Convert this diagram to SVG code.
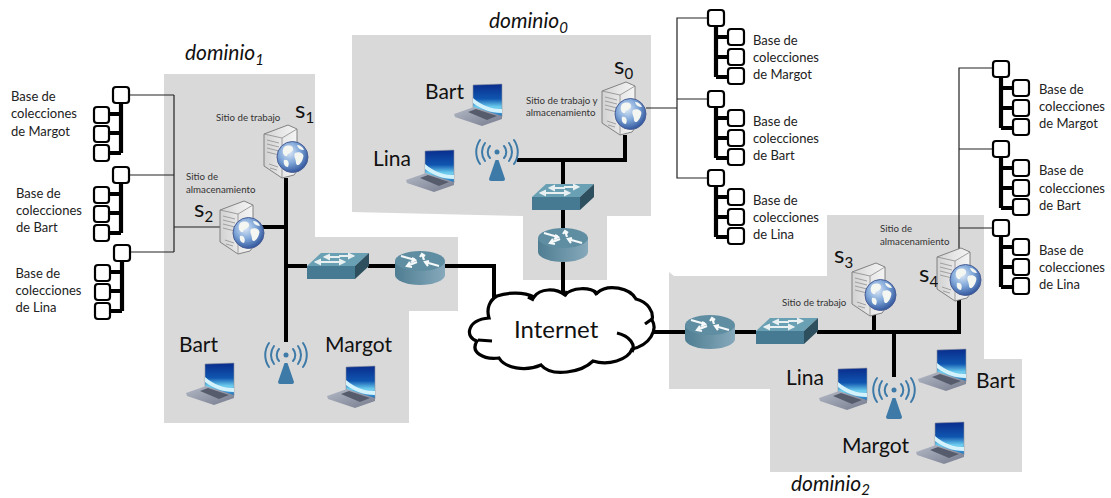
<svg xmlns="http://www.w3.org/2000/svg" width="1111" height="498" viewBox="0 0 1111 498">
<style>
text{font-family:Lato,"Liberation Sans",sans-serif;fill:#111}
.db{font-size:13px;fill:#222}
.big{font-size:21px}
.sm{font-size:9.7px;fill:#333}
.dom{font-size:21px;font-style:italic}
.sv{font-size:24px}
.sub{font-size:15px}
.inet{font-size:24px}
.region{fill:#d9d9d9}
.thin{fill:none;stroke:#222;stroke-width:1.2}
.thick{fill:none;stroke:#000;stroke-width:4}
.box{fill:#fff;stroke:#000;stroke-width:2.2}
.trunk{fill:none;stroke:#000;stroke-width:4.2}
.arc{fill:none;stroke:#3d7aa8;stroke-width:2;stroke-linecap:round}
</style>
<defs>
<linearGradient id="scr" x1="0" y1="0" x2="0" y2="1"><stop offset="0" stop-color="#0a2c8c"/><stop offset=".45" stop-color="#0f56b0"/><stop offset=".7" stop-color="#6fd0f0"/><stop offset="1" stop-color="#1266b8"/></linearGradient>
<linearGradient id="kb" x1="0" y1="0" x2="1" y2="1"><stop offset="0" stop-color="#b4b9c6"/><stop offset="1" stop-color="#767c8e"/></linearGradient>
<linearGradient id="rt" x1="0" y1="0" x2="1" y2="0"><stop offset="0" stop-color="#4f7d92"/><stop offset="1" stop-color="#86a9bb"/></linearGradient>
<radialGradient id="gl" cx=".4" cy=".35" r=".7"><stop offset="0" stop-color="#dbe7f6"/><stop offset=".5" stop-color="#7ea6d8"/><stop offset="1" stop-color="#2a4d96"/></radialGradient>
<linearGradient id="tw" x1="0" y1="0" x2="1" y2="0"><stop offset="0" stop-color="#d2d2d2"/><stop offset=".5" stop-color="#e6e6e6"/><stop offset="1" stop-color="#f4f4f4"/></linearGradient>
<symbol id="laptop" overflow="visible">
<polygon points="19,1 48,0 48,33 19,24" fill="url(#scr)" stroke="#8d93a0" stroke-width=".6"/>
<path d="M19,14 C28,22 38,25 48,25 L48,29 C36,29 27,25 19,19Z" fill="#d4f2fb"/>
<polygon points="0,30 20,23 48,32 48,35 28,42 1,33" fill="url(#kb)"/>
<polygon points="14,28 22,25 43,32 33,36" fill="#565c6c"/>
</symbol>
<symbol id="server" overflow="visible">
<polygon points="0,9 24,0 33,4 33,46 30,50 18,53 0,41" fill="url(#tw)" stroke="#777" stroke-width=".9"/>
<path d="M18,13 L18,53 M0,9 L18,13 L33,4" fill="none" stroke="#8a8a8a" stroke-width=".8"/>
<path d="M3,15 L15,18 M3,19 L15,22 M3,23 L15,26 M3,27 L15,30 M5,39 L14,42 M6,43 L13,45" stroke="#999" stroke-width=".9" fill="none"/>
<circle cx="28.500" cy="32" r="15.500" fill="url(#gl)" stroke="#4a5f96" stroke-width="1"/>
<path d="M20,22 C25,19 30,21 29,25 C27,29 24,27 23,31 C20,32 17,27 20,22Z M31,28 C36,26 41,29 39,33 C38,38 33,43 32,38 C32,34 29,31 31,28Z M20,35 C24,34 26,38 24,42 C21,42 19,39 20,35Z M33,20 C36,20 39,22 40,25 C37,25 34,24 33,20Z" fill="#f4f6f2"/>
</symbol>
<symbol id="switch" overflow="visible">
<polygon points="0,13 14,0 62,0 48,13" fill="#6aa0b4"/>
<polygon points="0,13 48,13 48,26 0,26" fill="#467a92"/>
<polygon points="48,13 62,0 62,13 48,26" fill="#2e4f5e"/>
<path d="M20,4 H33 M44,3 H32 M11,9 H25 M35,9 H24 M18,4 L22,2 L22,6Z M46,3 L42,1 L42,5Z M9,9 L13,7 L13,11Z M37,9 L33,7 L33,11Z" stroke="#e8f0f2" stroke-width="2" fill="#e8f0f2"/>
</symbol>
<symbol id="router" overflow="visible">
<path d="M0,10 V24 A25,10 0 0 0 50,24 V10Z" fill="url(#rt)"/>
<ellipse cx="25" cy="10" rx="25" ry="10" fill="#5f8da1"/>
<path d="M6,5 L20,9 M17,7 L20,9 L16,11 M12,15 L22,11 M15,11 L12,15 L17,16 M29,9 L27,3 M25,6 L27,3 L30,5 M30,11 L44,15 M34,10 L30,11 L33,15" stroke="#f6f9fa" stroke-width="2.200" fill="none"/>
</symbol>
<symbol id="ap" overflow="visible">
<circle r="2.500" fill="#3d7aa8"/>
<path class="arc" d="M-7,-6 A9,9 0 0 0 -7,6 M7,-6 A9,9 0 0 1 7,6 M-12,-9 A15,15 0 0 0 -12,9 M12,-9 A15,15 0 0 1 12,9 M-17,-12 A21,21 0 0 0 -17,12 M17,-12 A21,21 0 0 1 17,12"/>
<path d="M-1.500,8 H1.500 L8,27 Q8,29 6,29 H-6 Q-8,29 -8,27Z" fill="#3d7aa8"/>
</symbol>
<symbol id="treeR" overflow="visible">
<path class="trunk" d="M8,16 V67 M8,27 H20 M8,47 H20 M8,67 H20"/>
<rect class="box" x="0" y="0" width="16" height="16" rx="3"/>
<rect class="box" x="20" y="19" width="16" height="16" rx="3"/>
<rect class="box" x="20" y="39" width="16" height="16" rx="3"/>
<rect class="box" x="20" y="58" width="16" height="16" rx="3"/>
</symbol>
<symbol id="treeL" overflow="visible">
<path class="trunk" d="M27,16 V66 M15,27 H27 M15,46 H27 M15,66 H27"/>
<rect class="box" x="19" y="0" width="16" height="16" rx="3"/>
<rect class="box" x="0" y="20" width="15" height="16" rx="3"/>
<rect class="box" x="0" y="39" width="15" height="16" rx="3"/>
<rect class="box" x="0" y="58" width="15" height="16" rx="3"/>
</symbol>
</defs>
<g id="regions">
<polygon class="region" points="164,74 315,74 315,237 458,237 458,311 409,311 409,423 164,423"/>
<polygon class="region" points="352,35 651,35 651,216 607,216 607,280 523,280 523,216 352,212"/>
<polygon class="region" points="669,272 674,276 827,276 827,215 984,215 984,359 1022,359 1022,472 770,472 770,389 669,389"/>
</g>
<g id="connectors">
<path class="thin" d="M129,95 H174 M129,175 H174 M129,252 H174 M174,95 V252 M174,227 H222"/>
<path class="thin" d="M708,18 H677 V178 H708 M677,99 H708 M646,108 H677"/>
<path class="thin" d="M993,68 H959 V250 M959,149 H993 M959,228 H993"/>
<path class="thick" d="M286,178 V342 M260,227 H286 M286,266 H307 M368,266 H395 M445,266 H494 V302"/>
<path class="thick" d="M625,135 V160 H517 M563,160 V184 M563,209 V228 M563,262 V294"/>
<path class="thick" d="M654,332 H685 M735,332 H756 M817,332 H959 V300 M874,315 V332 M894,332 V377"/>
</g>
<g id="internet">
<path d="M489,318 C486,308 490,300 497,296 C508,292 524,292 534,297 C540,288 556,288 565,295 C572,287 590,287 597,293 C608,283 630,288 636,299 C648,302 654,312 652,320 C658,330 650,345 632,349 C628,360 608,366 593,361 C582,372 552,378 541,365 C525,372 505,368 499,358 C483,360 470,352 477,341 C465,338 466,320 489,318Z" fill="#fff" stroke="#000" stroke-width="3.200"/>
<path d="M492,341 L478,340 M645,324 L652,319 M617,333 C630,336 636,345 632,352 M534,300 L528,297 M565,296 L567,291 M597,295 L594,291" fill="none" stroke="#000" stroke-width="3.200"/>
<text class="inet" x="514" y="338">Internet</text>
</g>
<g id="dominio1-label"><text class="dom" x="185" y="60">dominio<tspan class="sub" dy="5">1</tspan></text></g>
<g id="dominio0-label"><text class="dom" x="489" y="28">dominio<tspan class="sub" dy="5">0</tspan></text></g>
<g id="dominio2-label"><text class="dom" x="791" y="491">dominio<tspan class="sub" dy="4">2</tspan></text></g>
<g id="s1"><use href="#server" x="264" y="125"/><text class="sm" x="216" y="121">Sitio de trabajo</text><text class="sv" x="295" y="118">s<tspan class="sub" dy="5">1</tspan></text></g>
<g id="s2"><use href="#server" x="220" y="201"/><text class="sm" x="186" y="180">Sitio de</text><text class="sm" x="186" y="193">almacenamiento</text><text class="sv" x="194" y="217">s<tspan class="sub" dy="5">2</tspan></text></g>
<g id="s0"><use href="#server" x="602" y="82"/><text class="sm" x="526" y="104">Sitio de trabajo y</text><text class="sm" x="526" y="116">almacenamiento</text><text class="sv" x="614" y="74">s<tspan class="sub" dy="5">0</tspan></text></g>
<g id="s3"><use href="#server" x="852" y="263"/><text class="sm" x="782" y="306">Sitio de trabajo</text><text class="sv" x="834" y="263">s<tspan class="sub" dy="5">3</tspan></text></g>
<g id="s4"><use href="#server" x="937" y="248"/><text class="sm" x="880" y="232">Sitio de</text><text class="sm" x="880" y="245">almacenamiento</text><text class="sv" x="919" y="282">s<tspan class="sub" dy="5">4</tspan></text></g>
<g id="switch1"><use href="#switch" x="307" y="253"/></g>
<g id="switch0"><use href="#switch" x="532" y="184"/></g>
<g id="switch2"><use href="#switch" x="756" y="318"/></g>
<g id="router1"><use href="#router" x="395" y="251"/></g>
<g id="router0"><use href="#router" x="538" y="228"/></g>
<g id="router2"><use href="#router" x="685" y="315"/></g>
<g id="ap1"><use href="#ap" x="286" y="355"/></g>
<g id="ap0"><use href="#ap" x="497" y="152"/></g>
<g id="ap2"><use href="#ap" x="894" y="390"/></g>
<g id="bart1"><use href="#laptop" x="186" y="363"/><text class="big" x="179" y="352">Bart</text></g>
<g id="margot1"><use href="#laptop" x="327" y="366"/><text class="big" x="325" y="352">Margot</text></g>
<g id="bart0"><use href="#laptop" x="454" y="84"/><text class="big" x="425" y="99">Bart</text></g>
<g id="lina0"><use href="#laptop" x="406" y="150"/><text class="big" x="373" y="166">Lina</text></g>
<g id="lina2"><use href="#laptop" x="819" y="368"/><text class="big" x="786" y="385">Lina</text></g>
<g id="bart2"><use href="#laptop" x="918" y="349"/><text class="big" x="976" y="388">Bart</text></g>
<g id="margot2"><use href="#laptop" x="916" y="422"/><text class="big" x="842" y="453">Margot</text></g>
<g id="d1-margot"><use href="#treeL" x="94" y="87"/><text class="db" x="11" y="101">Base de</text><text class="db" x="11" y="118">colecciones</text><text class="db" x="11" y="136">de Margot</text></g>
<g id="d1-bart"><use href="#treeL" x="94" y="167"/><text class="db" x="16" y="198">Base de</text><text class="db" x="16" y="215">colecciones</text><text class="db" x="16" y="232">de Bart</text></g>
<g id="d1-lina"><use href="#treeL" x="95" y="245"/><text class="db" x="15.500" y="278">Base de</text><text class="db" x="15.500" y="295">colecciones</text><text class="db" x="15.500" y="312">de Lina</text></g>
<g id="d0-margot"><use href="#treeR" x="708" y="10"/><text class="db" x="753" y="45">Base de</text><text class="db" x="753" y="62">colecciones</text><text class="db" x="753" y="79">de Margot</text></g>
<g id="d0-bart"><use href="#treeR" x="708" y="91"/><text class="db" x="753" y="126">Base de</text><text class="db" x="753" y="143">colecciones</text><text class="db" x="753" y="160">de Bart</text></g>
<g id="d0-lina"><use href="#treeR" x="708" y="170"/><text class="db" x="753" y="205">Base de</text><text class="db" x="753" y="222">colecciones</text><text class="db" x="753" y="239">de Lina</text></g>
<g id="d2-margot"><use href="#treeR" x="993" y="61"/><text class="db" x="1039" y="94">Base de</text><text class="db" x="1039" y="111">colecciones</text><text class="db" x="1039" y="128">de Margot</text></g>
<g id="d2-bart"><use href="#treeR" x="993" y="141"/><text class="db" x="1039" y="175">Base de</text><text class="db" x="1039" y="193">colecciones</text><text class="db" x="1039" y="210">de Bart</text></g>
<g id="d2-lina"><use href="#treeR" x="993" y="220"/><text class="db" x="1039" y="255">Base de</text><text class="db" x="1039" y="272">colecciones</text><text class="db" x="1039" y="289">de Lina</text></g>
</svg>
